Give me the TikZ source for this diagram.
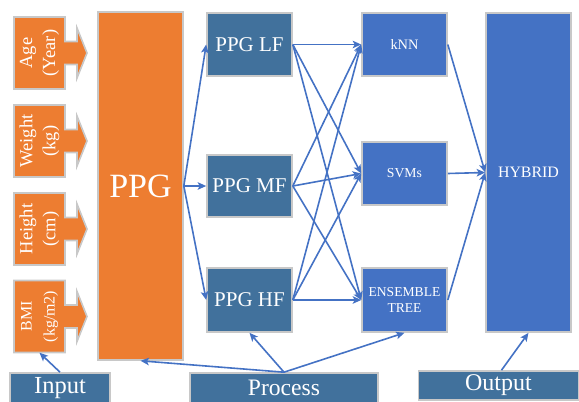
\documentclass[tikz,border=0pt]{standalone}
\usepackage{fontspec}
\setmainfont{Liberation Serif}
\usetikzlibrary{arrows.meta}
\definecolor{orng}{HTML}{ED7D31}
\definecolor{slate}{HTML}{41719C}
\definecolor{blu}{HTML}{4472C4}
\definecolor{bord}{HTML}{C8C8C8}
\tikzset{
  box/.style={draw=bord, line width=1.6pt, text=white, inner sep=0pt, align=center},
  obox/.style={box, fill=orng},
  sbox/.style={box, fill=slate},
  bbox/.style={box, fill=blu},
  conn/.style={draw=blu, line width=1.6pt, -{Stealth[length=8.5pt,width=7.5pt,inset=2pt]}},
  inshape/.style={fill=orng, draw=bord, line width=1.6pt, line join=miter},
}
\newcommand\calloutin[4]{%
  \path[inshape] (14,{#2-36}) -- (65,{#2-36}) -- (65,{#2-11.5}) -- (77,{#2-11.5}) -- (77,{#2-25}) -- (87,#2)
     -- (77,{#2+25}) -- (77,{#2+11.5}) -- (65,{#2+11.5}) -- (65,{#2+36}) -- (14,{#2+36}) -- cycle;
  \node[inner sep=0pt, minimum width=51pt, minimum height=72pt] (#1) at (39.5,#2) {};
  \node[rotate=90, text=white, align=center, font=\fontsize{#4}{23}\selectfont] (#1t) at (39.5,#2) {#3};
}
\begin{document}
\begin{tikzpicture}[x=1pt,y=-1pt]
\useasboundingbox (0,0) rectangle (579,402);
\clip (0,0) rectangle (579,402);

\calloutin{age}{53}{Age\\(Year)}{18.5}
\calloutin{wgt}{141}{Weight\\(kg)}{18.5}
\calloutin{hgt}{229}{Height\\(cm)}{18.5}
\calloutin{bmi}{316.5}{BMI\\(kg/m2)}{16}

\node[obox, minimum width=85pt, minimum height=348pt, font=\fontsize{34}{38}\selectfont] (ppg) at (140.5,186) {PPG};

\node[sbox, minimum width=85pt, minimum height=63pt, font=\fontsize{21}{24}\selectfont] (lf) at (249.5,44.5) {PPG LF};
\node[sbox, minimum width=85pt, minimum height=62pt, font=\fontsize{21}{24}\selectfont] (mf) at (249.5,186) {PPG MF};
\node[sbox, minimum width=85pt, minimum height=64pt, font=\fontsize{21}{24}\selectfont] (hf) at (249.5,300) {PPG HF};

\node[bbox, minimum width=85pt, minimum height=63pt, font=\fontsize{14.4}{17}\selectfont] (knn) at (404.5,44.5) {kNN};
\node[bbox, minimum width=85pt, minimum height=63pt, font=\fontsize{13.7}{17}\selectfont] (svm) at (404.5,173.5) {SVMs};
\node[bbox, minimum width=85pt, minimum height=64pt, font=\fontsize{13.6}{16.5}\selectfont] (ens) at (404.5,300) {ENSEMBLE\\TREE};

\node[bbox, minimum width=85pt, minimum height=319pt, font=\fontsize{15.9}{18}\selectfont] (hyb) at (528.5,172.5) {HYBRID};

\node[sbox, minimum width=100pt, minimum height=30pt, font=\fontsize{24.5}{26}\selectfont] (inp) at (60,388) {Input};
\node[sbox, minimum width=188pt, minimum height=30pt, font=\fontsize{23.6}{26}\selectfont] (proc) at (284,388) {Process};
\node[sbox, minimum width=160pt, minimum height=29pt, font=\fontsize{24}{26}\selectfont] (out) at (498.5,385.5) {Output};

\foreach \t in {lf,mf,hf} \draw[conn] (ppg.east) -- (\t.west);
\foreach \s in {lf,mf,hf} {
  \foreach \t in {knn,svm,ens} \draw[conn] (\s.east) -- (\t.west);
}
\foreach \s in {knn,svm,ens} \draw[conn] (\s.east) -- (hyb.west);

\draw[conn] (inp.north) -- (bmi.south);
\draw[conn] (proc.north) -- (ppg.south);
\draw[conn] (proc.north) -- (hf.south);
\draw[conn] (proc.north) -- (ens.south);
\draw[conn] ([xshift=3pt]out.north) -- (hyb.south);
\end{tikzpicture}
\end{document}
